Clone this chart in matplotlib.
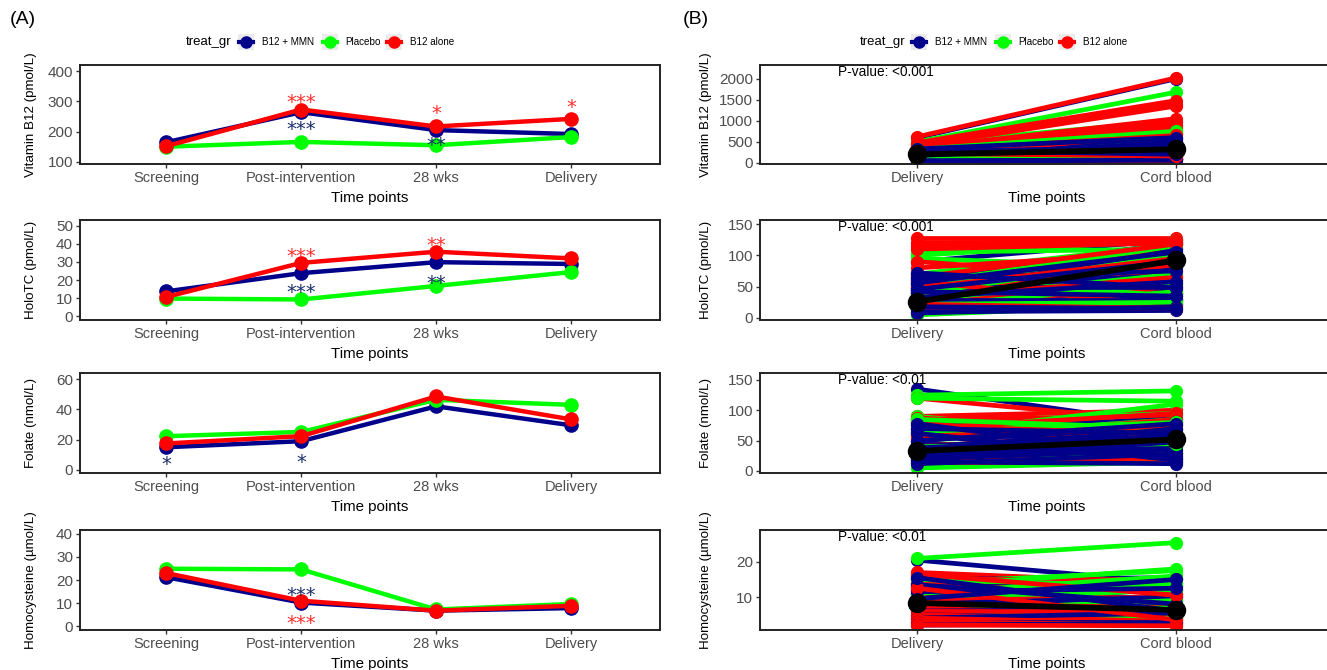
import matplotlib
matplotlib.use('Agg')
import matplotlib.pyplot as plt
import matplotlib.transforms as mtransforms
from matplotlib.patches import Rectangle
from matplotlib.lines import Line2D

plt.rcParams['font.family'] = ['Liberation Sans', 'DejaVu Sans']

W, H = 1327, 670

groups = ['B12 + MMN', 'Placebo', 'B12 alone']
colors = ['#00008B', '#00FF00', '#FF0000']
star_blue = '#1B2E6B'
star_red = '#FF2E2E'

time_points = ['Screening', 'Post-intervention', '28 wks', 'Delivery']
cord_points = ['Delivery', 'Cord blood']

# ---- (A) group means over pregnancy
b12_mmn_vitb12 = [165, 264, 205, 192]
placebo_vitb12 = [150, 166, 155, 182]
b12_alone_vitb12 = [152, 273, 217, 242]

b12_mmn_holotc = [13.7, 23.8, 29.9, 28.9]
placebo_holotc = [9.7, 9.2, 16.7, 24.4]
b12_alone_holotc = [10.6, 29.5, 35.7, 32.0]

b12_mmn_folate = [15.0, 19.0, 42.0, 29.5]
placebo_folate = [22.3, 25.1, 46.3, 43.0]
b12_alone_folate = [17.5, 22.3, 48.5, 33.4]

b12_mmn_hcy = [21.2, 10.2, 6.7, 7.8]
placebo_hcy = [24.9, 24.6, 7.2, 9.6]
b12_alone_hcy = [23.0, 11.0, 6.7, 8.8]

# significance marks: (time index, y, text, colour)
stars_vitb12 = [(1, 318, '***', 'r'), (1, 227, '***', 'b'), (2, 279, '*', 'r'),
                (2, 175, '**', 'b'), (3, 301, '*', 'r')]
stars_holotc = [(1, 36.3, '***', 'r'), (1, 16.5, '***', 'b'),
                (2, 42.7, '**', 'r'), (2, 21.5, '**', 'b')]
stars_folate = [(0, 7.6, '*', 'b'), (1, 9.3, '*', 'b')]
stars_hcy = [(1, 16.0, '***', 'b'), (1, 4.0, '***', 'r')]

# ---- (B) individual delivery -> cord blood pairs
vb_mmn_del = [600, 420, 380, 350, 300, 280, 250, 230, 210, 200, 180, 160, 150, 140, 120, 100, 90, 80, 60, 50, 40, 300, 260, 220, 330, 170]
vb_mmn_cord = [2000, 520, 850, 300, 600, 780, 400, 450, 700, 250, 350, 550, 120, 420, 220, 330, 150, 500, 100, 80, 60, 200, 380, 280, 600, 460]
vb_pla_del = [500, 450, 400, 350, 300, 280, 250, 220, 200, 180, 150, 130, 110, 90, 70, 50, 30, 320, 240, 160]
vb_pla_cord = [1680, 1000, 560, 950, 420, 900, 300, 820, 700, 250, 620, 150, 480, 380, 100, 200, 60, 750, 340, 180]
vb_alo_del = [620, 480, 450, 400, 380, 350, 320, 300, 260, 240, 200, 180, 150, 120, 100, 80, 60, 40, 20, 280, 220]
vb_alo_cord = [2020, 1480, 1400, 1350, 600, 1050, 980, 300, 900, 500, 800, 220, 700, 420, 350, 120, 280, 80, 40, 650, 160]
vb_mean = [200, 320]

ht_mmn_del = [90, 62, 55, 70, 48, 35, 60, 45, 52, 30, 66, 40, 25, 58, 20, 44, 15, 68, 38, 10, 50, 28, 64, 8, 56, 42, 33, 72, 18, 46]
ht_mmn_cord = [125, 120, 118, 60, 112, 85, 100, 70, 40, 55, 30, 95, 65, 45, 38, 80, 22, 25, 108, 12, 50, 28, 75, 18, 105, 35, 58, 48, 15, 90]
ht_pla_del = [105, 100, 95, 70, 60, 50, 45, 40, 35, 30, 25, 20, 15, 12, 8, 5, 55, 28, 65, 18, 38, 22]
ht_pla_cord = [110, 125, 80, 118, 45, 105, 60, 90, 30, 50, 38, 65, 20, 28, 42, 22, 115, 70, 35, 55, 100, 25]
ht_alo_del = [128, 120, 115, 110, 90, 80, 70, 60, 55, 50, 45, 40, 35, 30, 25, 20, 15, 10, 65, 42, 58, 32, 48, 22]
ht_alo_cord = [128, 122, 125, 120, 60, 105, 45, 75, 110, 30, 55, 100, 18, 40, 25, 50, 35, 28, 118, 85, 20, 65, 95, 15]
ht_mean = [26, 92]

fo_mmn_del = [135, 85, 80, 75, 70, 65, 60, 55, 50, 45, 40, 35, 30, 25, 20, 15, 12, 70, 50, 62, 38, 28, 78, 18]
fo_mmn_cord = [75, 45, 70, 30, 85, 55, 20, 60, 80, 25, 65, 15, 50, 40, 35, 12, 28, 62, 78, 18, 58, 70, 22, 48]
fo_pla_del = [125, 120, 90, 80, 70, 60, 55, 45, 35, 30, 25, 20, 15, 10, 5, 65, 85, 40]
fo_pla_cord = [132, 115, 50, 95, 75, 110, 85, 40, 65, 22, 30, 60, 25, 35, 15, 80, 70, 45]
fo_alo_del = [120, 90, 88, 85, 80, 70, 60, 50, 45, 40, 35, 30, 25, 20, 15, 75, 55]
fo_alo_cord = [80, 100, 55, 90, 40, 95, 70, 85, 30, 65, 50, 25, 35, 20, 15, 60, 75]
fo_mean = [33, 52]

hc_mmn_del = [20.5, 16, 15, 14, 13, 12, 11, 10, 9, 8, 7, 6, 5, 4, 3, 2, 13.5, 11.5, 15.5, 9.5]
hc_mmn_cord = [14, 11, 15.5, 9, 13, 5, 12, 15, 7, 10, 4, 6.5, 3.5, 5.5, 3, 2.5, 8, 12.5, 6, 15]
hc_pla_del = [21, 16, 14, 13, 12, 10, 9, 8, 7, 6, 5, 4, 3, 11, 15]
hc_pla_cord = [25.5, 11, 17.5, 18, 8, 15, 12, 14, 5, 9, 7, 6, 4, 16, 13]
hc_alo_del = [17, 16, 15, 14, 13, 12, 11, 10, 9, 8, 7, 6, 5, 4, 3, 2, 16.5, 12.5]
hc_alo_cord = [14, 8, 15, 11, 12, 9, 13, 5, 10, 7, 4, 6, 3, 2.5, 2, 1.8, 10.5, 3.5]
hc_mean = [8.3, 6.3]


fig = plt.figure(figsize=(W / 100, H / 100), dpi=100)


def add_ax(x0, x1, top, bottom):
    return fig.add_axes([x0 / W, 1 - bottom / H, (x1 - x0) / W, (bottom - top) / H])


def style(ax, h_px, ylab_x):
    for s in ax.spines.values():
        s.set_linewidth(1.4)
        s.set_color('#222222')
    ax.tick_params(direction='out', length=3, width=1, color='#333333',
                   labelcolor='#4D4D4D', labelsize=11, pad=2)
    ax.tick_params(axis='x', labelsize=10.5)
    ax.set_xlabel('Time points', fontsize=10.8, color='black')
    ax.xaxis.set_label_coords(0.5, -34 / h_px)
    ax.xaxis.label.set_va('center')
    ax.yaxis.label.set_fontsize(9.6)
    ax.yaxis.set_label_coords(ylab_x, 0.5)


rows = [(65, 164), (220, 320), (373, 473), (530, 630)]

left_panels = [
    ('Vitamin B12 (pmol/L)', b12_mmn_vitb12, placebo_vitb12, b12_alone_vitb12,
     (93, 420), [100, 200, 300, 400], stars_vitb12),
    ('HoloTC (pmol/L)', b12_mmn_holotc, placebo_holotc, b12_alone_holotc,
     (-2.2, 53.3), [0, 10, 20, 30, 40, 50], stars_holotc),
    ('Folate (nmol/L)', b12_mmn_folate, placebo_folate, b12_alone_folate,
     (-2, 64), [0, 20, 40, 60], stars_folate),
    ('Homocysteine (\u00b5mol/L)', b12_mmn_hcy, placebo_hcy, b12_alone_hcy,
     (-1.7, 41.7), [0, 10, 20, 30, 40], stars_hcy),
]

for (top, bottom), (ylab, s1, s2, s3, ylim, yticks, stars) in zip(rows, left_panels):
    ax = add_ax(80, 660, top, bottom)
    x = list(range(len(time_points)))
    for vals, c in zip([s1, s2, s3], colors):
        ax.plot(x, vals, color=c, lw=3.2, marker='o', ms=9.5, solid_capstyle='round')
    star_tr = mtransforms.offset_copy(ax.transData, fig=fig, x=0, y=-8.5, units='points')
    for xi, yv, txt, c in stars:
        ax.text(xi, yv, txt, color=star_red if c == 'r' else star_blue, fontsize=14,
                family='DejaVu Sans', ha='center', va='baseline', transform=star_tr)
    ax.set_xlim(-0.64, 3.66)
    ax.set_ylim(*ylim)
    ax.set_yticks(yticks)
    ax.set_xticks(x)
    ax.set_xticklabels(time_points)
    ax.set_ylabel(ylab)
    style(ax, bottom - top, (37 - 80) / 580)

right_panels = [
    ('Vitamin B12 (pmol/L)', (vb_mmn_del, vb_mmn_cord), (vb_pla_del, vb_pla_cord),
     (vb_alo_del, vb_alo_cord), vb_mean, (-30, 2330), [0, 500, 1000, 1500, 2000], 'P-value: <0.001'),
    ('HoloTC (pmol/L)', (ht_mmn_del, ht_mmn_cord), (ht_pla_del, ht_pla_cord),
     (ht_alo_del, ht_alo_cord), ht_mean, (-3.2, 156.4), [0, 50, 100, 150], 'P-value: <0.001'),
    ('Folate (nmol/L)', (fo_mmn_del, fo_mmn_cord), (fo_pla_del, fo_pla_cord),
     (fo_alo_del, fo_alo_cord), fo_mean, (-3.3, 161.5), [0, 50, 100, 150], 'P-value: <0.01'),
    ('Homocysteine (\u00b5mol/L)', (hc_mmn_del, hc_mmn_cord), (hc_pla_del, hc_pla_cord),
     (hc_alo_del, hc_alo_cord), hc_mean, (0.6, 29.1), [10, 20], 'P-value: <0.01'),
]

for (top, bottom), (ylab, g1, g2, g3, mean, ylim, yticks, ptxt) in zip(rows, right_panels):
    ax = add_ax(760, 1333, top, bottom)
    n = max(len(g[0]) for g in (g1, g2, g3))
    for i in range(n):
        for (d, cb), c in zip([g1, g2, g3], colors):
            if i < len(d):
                ax.plot([0, 1], [d[i], cb[i]], color=c, lw=3.4, marker='o', ms=8.5)
    ax.plot([0, 1], mean, color='black', lw=4.2, marker='o', ms=13, zorder=5)
    ax.set_xlim(-0.61, 1.61)
    ax.set_ylim(*ylim)
    ax.set_yticks(yticks)
    ax.set_xticks([0, 1])
    ax.set_xticklabels(cord_points)
    ax.set_ylabel(ylab)
    style(ax, bottom - top, (712 - 760) / 573)
    ax.text((838 - 760) / 573, 1 - 7 / (bottom - top), ptxt, transform=ax.transAxes,
            fontsize=9.8, color='black', ha='left', va='center', zorder=10)

# panel tags
fig.text(10 / W, 1 - 20 / H, '(A)', fontsize=14, va='center', ha='left')
fig.text(683 / W, 1 - 20 / H, '(B)', fontsize=14, va='center', ha='left')


# legends drawn in pixel positions
def px(x, y):
    return x / W, 1 - y / H


def draw_legend(title_x, key_xs, label_xs, y=42):
    fig.text(*px(title_x, y), 'treat_gr', fontsize=9.5, ha='left', va='center')
    for kx, lx, c, g in zip(key_xs, label_xs, colors, groups):
        fig.add_artist(Rectangle(px(kx - 8, y + 8), 16 / W, 16 / H, transform=fig.transFigure,
                                 facecolor='#EBEBEB', edgecolor='none'))
        x0, yy = px(kx - 7, y)
        x1, _ = px(kx + 7, y)
        fig.add_artist(Line2D([x0, x1], [yy, yy], transform=fig.transFigure, color=c, lw=3))
        fig.add_artist(Line2D([(x0 + x1) / 2], [yy], transform=fig.transFigure, color=c,
                              marker='o', ms=8, lw=0))
        fig.text(*px(lx, y), g, fontsize=7.1, ha='left', va='center')


draw_legend(186, [246, 330, 394], [262, 345, 410])
draw_legend(860, [919, 1003, 1067], [935, 1018, 1083])

fig.savefig('out.png', dpi=100)
